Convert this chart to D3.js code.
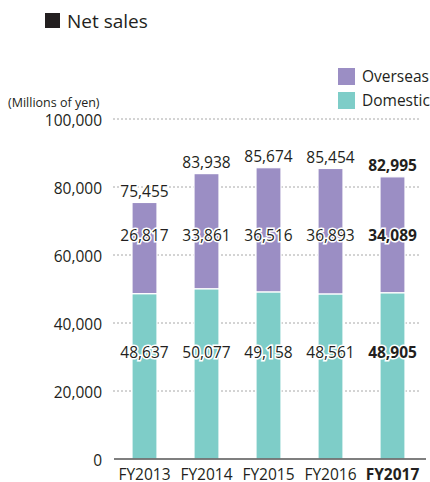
<!DOCTYPE html>
<html>
<head>
<meta charset="utf-8">
<script src="https://cdn.jsdelivr.net/npm/d3@7"></script>
<style>
  body { margin: 0; background: #fff; }
  svg text { font-family: "Open Sans", "Noto Sans", sans-serif; fill: #231f20; }
</style>
</head>
<body>
<div id="chart"></div>
<script>
// data
const years = ["FY2013", "FY2014", "FY2015", "FY2016", "FY2017"];
const domestic = [48637, 50077, 49158, 48561, 48905];
const overseas = [26817, 33861, 36516, 36893, 34089];
const totals = [75455, 83938, 85674, 85454, 82995];
const yTicks = [0, 20000, 40000, 60000, 80000, 100000];
const highlight = "FY2017";

const colors = { overseas: "#9b8ec4", domestic: "#7ecdc8" };

const width = 430, height = 482;
const margin = ({ top: 119, right: 4, bottom: 23, left: 114 });

const svg = d3.select("#chart").append("svg")
    .attr("width", width)
    .attr("height", height);

const xScale = d3.scalePoint()
    .domain(years)
    .range([144.5, 392.5]);

const yScale = d3.scaleLinear()
    .domain([0, 100000])
    .range([height - margin.bottom, margin.top]);

const barWidth = 25;
const fmt = d3.format(",");

// title
svg.append("rect").attr("x", 45).attr("y", 13).attr("width", 15).attr("height", 15).attr("fill", "#231f20");
svg.append("text").attr("x", 67).attr("y", 28).style("font-size", "19px").text("Net sales");

// unit label
svg.append("text").attr("x", 8).attr("y", 107).style("font-size", "12.5px").text("(Millions of yen)");

// gridlines
svg.append("g")
    .selectAll("line")
    .data(yTicks.filter(d => d > 0))
    .join("line")
    .attr("x1", 113)
    .attr("x2", 421)
    .attr("y1", d => yScale(d))
    .attr("y2", d => yScale(d))
    .style("stroke", "#a8a8a8")
    .style("stroke-width", 1)
    .style("stroke-dasharray", "2,2");

// y tick labels
svg.append("g")
    .selectAll("text")
    .data(yTicks)
    .join("text")
    .attr("x", 102)
    .attr("y", d => yScale(d) + 6.5)
    .attr("text-anchor", "end")
    .style("font-size", "15.5px")
    .text(d => fmt(d));

// stacked bars
const rows = years.map((y, i) => ({ year: y, domestic: domestic[i], overseas: overseas[i], total: totals[i] }));
const stack = d3.stack().keys(["domestic", "overseas"])(rows);

svg.append("g")
    .selectAll("g")
    .data(stack)
    .join("g")
    .attr("fill", s => colors[s.key])
    .selectAll("rect")
    .data(s => s)
    .join("rect")
    .attr("x", d => xScale(d.data.year) - barWidth / 2)
    .attr("width", barWidth)
    .attr("y", d => yScale(d[1]))
    .attr("height", d => yScale(d[0]) - yScale(d[1]))
    .attr("stroke", "#fff")
    .attr("stroke-width", 1.2);

// baseline axis
svg.append("line")
    .attr("x1", 114).attr("x2", 426)
    .attr("y1", yScale(0)).attr("y2", yScale(0))
    .style("stroke", "#555")
    .style("stroke-width", 1.3);

// value labels
function labels(key, yFn) {
    svg.append("g")
        .selectAll("text")
        .data(rows)
        .join("text")
        .attr("x", d => xScale(d.year))
        .attr("y", yFn)
        .attr("text-anchor", "middle")
        .style("font-size", "15.5px")
        .style("font-weight", d => d.year === highlight ? "bold" : "normal")
        .style("stroke", "#fff")
        .style("stroke-width", 3)
        .style("paint-order", "stroke")
        .text(d => fmt(d[key]));
}
labels("total", d => yScale(d.total) - 5.5);
labels("overseas", () => 241);
labels("domestic", () => 358);

// x labels
svg.append("g")
    .selectAll("text")
    .data(years)
    .join("text")
    .attr("x", d => xScale(d))
    .attr("y", 480)
    .attr("text-anchor", "middle")
    .style("font-size", "15.5px")
    .style("font-weight", d => d === highlight ? "bold" : "normal")
    .text(d => d);

// legend
const legendItems = [{ key: "overseas", label: "Overseas" }, { key: "domestic", label: "Domestic" }];
const legend = svg.append("g")
    .selectAll("g")
    .data(legendItems)
    .join("g")
    .attr("transform", (d, i) => `translate(338,${68 + i * 24})`);
legend.append("rect").attr("width", 17).attr("height", 17).attr("fill", d => colors[d.key]);
legend.append("text").attr("x", 24).attr("y", 14).style("font-size", "15.5px").text(d => d.label);
</script>
</body>
</html>
